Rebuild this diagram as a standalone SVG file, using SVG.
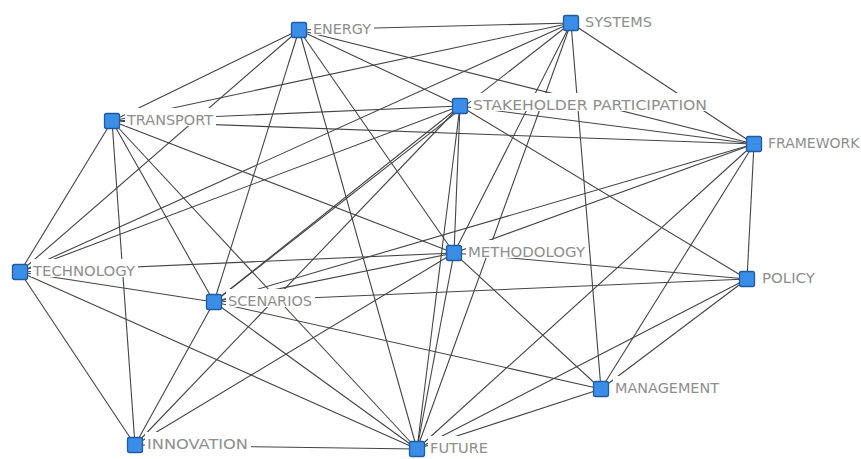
<svg xmlns="http://www.w3.org/2000/svg" width="861" height="459" viewBox="0 0 861 459">
<style>
.e{stroke:#444444;stroke-width:1.1;fill:none}
.n{fill:#3a8ee8;stroke:#1f5b9e;stroke-width:1.3}
.bg{fill:#ffffff}
.t{font-family:"DejaVu Sans","Verdana",sans-serif;font-size:14px;fill:#8e8e8e}
</style>
<rect width="861" height="459" fill="#ffffff"/>
<g id="edges">
<line class="e" x1="299" y1="30" x2="571" y2="23"/>
<line class="e" x1="299" y1="30" x2="112" y2="121"/>
<line class="e" x1="299" y1="30" x2="20" y2="272"/>
<line class="e" x1="299" y1="30" x2="214" y2="302"/>
<line class="e" x1="299" y1="30" x2="417" y2="449"/>
<line class="e" x1="299" y1="30" x2="454" y2="253"/>
<line class="e" x1="299" y1="30" x2="460" y2="106"/>
<line class="e" x1="299" y1="30" x2="754" y2="144"/>
<line class="e" x1="571" y1="23" x2="112" y2="121"/>
<line class="e" x1="571" y1="23" x2="20" y2="272"/>
<line class="e" x1="571" y1="23" x2="214" y2="302"/>
<line class="e" x1="571" y1="23" x2="454" y2="253"/>
<line class="e" x1="571" y1="23" x2="417" y2="449"/>
<line class="e" x1="571" y1="23" x2="601" y2="389"/>
<line class="e" x1="571" y1="23" x2="754" y2="144"/>
<line class="e" x1="112" y1="121" x2="20" y2="272"/>
<line class="e" x1="112" y1="121" x2="135" y2="445"/>
<line class="e" x1="112" y1="121" x2="214" y2="302"/>
<line class="e" x1="112" y1="121" x2="454" y2="253"/>
<line class="e" x1="112" y1="121" x2="417" y2="449"/>
<line class="e" x1="112" y1="121" x2="754" y2="144"/>
<line class="e" x1="112" y1="121" x2="460" y2="106"/>
<line class="e" x1="460" y1="106" x2="20" y2="272"/>
<line class="e" x1="460" y1="106" x2="214" y2="302"/>
<line class="e" x1="460" y1="106" x2="135" y2="445"/>
<line class="e" x1="460" y1="106" x2="454" y2="253"/>
<line class="e" x1="460" y1="106" x2="417" y2="449"/>
<line class="e" x1="460" y1="106" x2="747" y2="279"/>
<line class="e" x1="460" y1="106" x2="754" y2="144"/>
<line class="e" x1="754" y1="144" x2="214" y2="302"/>
<line class="e" x1="754" y1="144" x2="454" y2="253"/>
<line class="e" x1="754" y1="144" x2="417" y2="449"/>
<line class="e" x1="754" y1="144" x2="601" y2="389"/>
<line class="e" x1="754" y1="144" x2="747" y2="279"/>
<line class="e" x1="20" y1="272" x2="454" y2="253"/>
<line class="e" x1="20" y1="272" x2="214" y2="302"/>
<line class="e" x1="20" y1="272" x2="135" y2="445"/>
<line class="e" x1="20" y1="272" x2="417" y2="449"/>
<line class="e" x1="454" y1="253" x2="747" y2="279"/>
<line class="e" x1="454" y1="253" x2="601" y2="389"/>
<line class="e" x1="454" y1="253" x2="417" y2="449"/>
<line class="e" x1="454" y1="253" x2="135" y2="445"/>
<line class="e" x1="454" y1="253" x2="214" y2="302"/>
<line class="e" x1="747" y1="279" x2="214" y2="302"/>
<line class="e" x1="747" y1="279" x2="417" y2="449"/>
<line class="e" x1="747" y1="279" x2="601" y2="389"/>
<line class="e" x1="214" y1="302" x2="135" y2="445"/>
<line class="e" x1="214" y1="302" x2="417" y2="449"/>
<line class="e" x1="214" y1="302" x2="601" y2="389"/>
<line class="e" x1="601" y1="389" x2="417" y2="449"/>
<line class="e" x1="135" y1="445" x2="417" y2="449"/>
</g>
<g id="node-energy"><rect class="bg" x="311" y="17" width="63" height="18"/><text class="t" x="313" y="34" textLength="58" lengthAdjust="spacingAndGlyphs">ENERGY</text><rect class="n" x="291.5" y="22.5" width="15" height="15" rx="2"/></g>
<g id="node-systems"><rect class="bg" x="583" y="10" width="72" height="18"/><text class="t" x="585" y="27" textLength="67" lengthAdjust="spacingAndGlyphs">SYSTEMS</text><rect class="n" x="563.5" y="15.5" width="15" height="15" rx="2"/></g>
<g id="node-transport"><rect class="bg" x="125" y="108" width="91" height="18"/><text class="t" x="127" y="125" textLength="86" lengthAdjust="spacingAndGlyphs">TRANSPORT</text><rect class="n" x="104.5" y="113.5" width="15" height="15" rx="2"/></g>
<g id="node-stakeholder"><rect class="bg" x="471" y="93" width="239" height="18"/><text class="t" x="473" y="110" textLength="234" lengthAdjust="spacingAndGlyphs">STAKEHOLDER PARTICIPATION</text><rect class="n" x="452.5" y="98.5" width="15" height="15" rx="2"/></g>
<g id="node-framework"><rect class="bg" x="766" y="131" width="95" height="18"/><text class="t" x="768" y="148">FRAMEWORK</text><rect class="n" x="746.5" y="136.5" width="15" height="15" rx="2"/></g>
<g id="node-technology"><rect class="bg" x="31" y="259" width="107" height="18"/><text class="t" x="33" y="276" textLength="102" lengthAdjust="spacingAndGlyphs">TECHNOLOGY</text><rect class="n" x="12.5" y="264.5" width="15" height="15" rx="2"/></g>
<g id="node-methodology"><rect class="bg" x="466" y="240" width="122" height="18"/><text class="t" x="468" y="257" textLength="117" lengthAdjust="spacingAndGlyphs">METHODOLOGY</text><rect class="n" x="446.5" y="245.5" width="15" height="15" rx="2"/></g>
<g id="node-policy"><rect class="bg" x="760" y="266" width="58" height="18"/><text class="t" x="762" y="283" textLength="53" lengthAdjust="spacingAndGlyphs">POLICY</text><rect class="n" x="739.5" y="271.5" width="15" height="15" rx="2"/></g>
<g id="node-scenarios"><rect class="bg" x="226" y="289" width="89" height="18"/><text class="t" x="228" y="306" textLength="84" lengthAdjust="spacingAndGlyphs">SCENARIOS</text><rect class="n" x="206.5" y="294.5" width="15" height="15" rx="2"/></g>
<g id="node-management"><rect class="bg" x="613" y="376" width="109" height="18"/><text class="t" x="615" y="393" textLength="104" lengthAdjust="spacingAndGlyphs">MANAGEMENT</text><rect class="n" x="593.5" y="381.5" width="15" height="15" rx="2"/></g>
<g id="node-innovation"><rect class="bg" x="145" y="432" width="106" height="18"/><text class="t" x="147" y="449" textLength="101" lengthAdjust="spacingAndGlyphs">INNOVATION</text><rect class="n" x="127.5" y="437.5" width="15" height="15" rx="2"/></g>
<g id="node-future"><rect class="bg" x="428" y="436" width="63" height="18"/><text class="t" x="430" y="453" textLength="58" lengthAdjust="spacingAndGlyphs">FUTURE</text><rect class="n" x="409.5" y="441.5" width="15" height="15" rx="2"/></g>
</svg>
